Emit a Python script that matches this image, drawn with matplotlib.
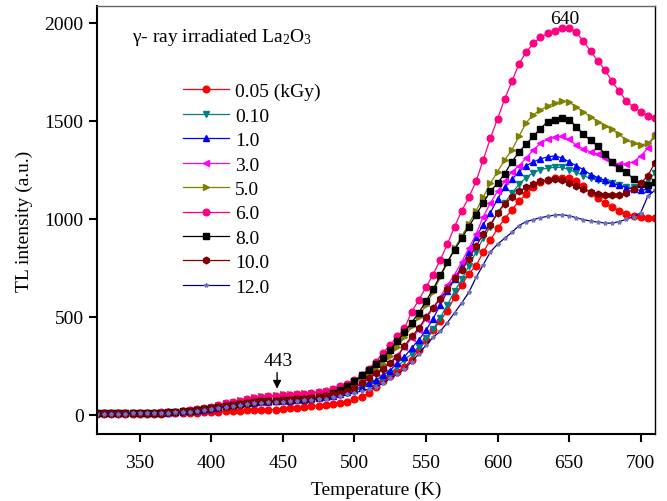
import matplotlib
matplotlib.use("Agg")
import matplotlib.pyplot as plt

plt.rcParams['font.family'] = ['Liberation Serif', 'DejaVu Serif']
plt.rcParams['mathtext.fontset'] = 'custom'
plt.rcParams['mathtext.rm'] = 'Liberation Serif'
plt.rcParams['mathtext.it'] = 'Liberation Serif:italic'

# temperature grid (K)
temperature = [320, 325, 330, 335, 340, 345, 350, 355, 360, 365, 370, 375, 380, 385, 390, 395,
               400, 405, 410, 415, 420, 425, 430, 435, 440, 445, 450, 455, 460, 465, 470, 475,
               480, 485, 490, 495, 500, 505, 510, 515, 520, 525, 530, 535, 540, 545, 550, 555,
               560, 565, 570, 575, 580, 585, 590, 595, 600, 605, 610, 615, 620, 625, 630, 635,
               640, 645, 650, 655, 660, 665, 670, 675, 680, 685, 690, 695, 700, 705, 710]

# TL intensity (a.u.) per dose
tl_005 = [4, 4, 4, 4, 4, 4, 5, 5, 5, 5, 6, 7, 8, 9, 10, 11,
          13, 15, 17, 19, 21, 22, 23, 24, 25, 26, 29, 32, 35, 38, 42, 46,
          50, 54, 58, 65, 78, 90, 110, 140, 170, 195, 220, 245, 280, 330, 380, 430,
          480, 530, 600, 660, 720, 760, 830, 890, 950, 1000, 1045, 1090, 1125, 1160, 1185, 1198,
          1205, 1210, 1205, 1190, 1165, 1130, 1105, 1080, 1058, 1040, 1025, 1013, 1008, 1005, 1003]
tl_010 = [6, 6, 6, 6, 6, 7, 7, 7, 8, 9, 10, 12, 14, 17, 21, 25,
          30, 36, 42, 48, 53, 57, 61, 64, 66, 68, 70, 72, 74, 77, 80, 84,
          88, 93, 102, 112, 122, 135, 150, 163, 185, 210, 245, 280, 310, 346, 390, 435,
          495, 560, 630, 690, 760, 830, 900, 960, 1030, 1080, 1130, 1175, 1210, 1235, 1250, 1258,
          1262, 1262, 1250, 1236, 1220, 1205, 1195, 1188, 1181, 1172, 1162, 1160, 1170, 1195, 1232]
tl_1 = [6, 6, 6, 6, 6, 7, 7, 7, 8, 9, 10, 12, 14, 17, 21, 25,
        30, 36, 42, 48, 53, 57, 61, 64, 66, 68, 70, 72, 74, 77, 80, 84,
        89, 95, 105, 115, 128, 143, 160, 175, 200, 225, 265, 295, 340, 382, 430, 490,
        560, 630, 690, 760, 830, 905, 970, 1030, 1100, 1160, 1200, 1240, 1270, 1290, 1305, 1315,
        1320, 1310, 1290, 1270, 1250, 1225, 1210, 1195, 1180, 1170, 1158, 1150, 1145, 1150, 1185]
tl_3 = [6, 6, 6, 6, 6, 7, 7, 7, 8, 9, 10, 12, 14, 17, 21, 25,
        30, 36, 42, 48, 53, 57, 61, 64, 66, 68, 70, 72, 74, 77, 80, 84,
        90, 98, 110, 125, 145, 165, 190, 210, 240, 265, 305, 345, 390, 433, 490, 545,
        600, 660, 715, 780, 850, 920, 1010, 1080, 1140, 1190, 1240, 1270, 1310, 1350, 1385, 1405,
        1415, 1420, 1405, 1375, 1355, 1340, 1330, 1310, 1285, 1280, 1280, 1290, 1320, 1360, 1435]
tl_5 = [8, 8, 8, 8, 8, 9, 9, 9, 10, 11, 13, 16, 19, 23, 28, 34,
        41, 49, 58, 67, 75, 82, 88, 93, 97, 100, 103, 105, 107, 109, 112, 116,
        122, 130, 140, 152, 168, 185, 205, 230, 260, 300, 345, 395, 450, 500, 560, 625,
        700, 775, 850, 910, 975, 1040, 1110, 1180, 1240, 1300, 1350, 1420, 1490, 1530, 1555, 1575,
        1590, 1600, 1595, 1570, 1545, 1520, 1495, 1475, 1455, 1430, 1400, 1385, 1375, 1385, 1420]
tl_6 = [8, 8, 8, 8, 8, 9, 9, 9, 10, 11, 13, 16, 19, 23, 28, 34,
        41, 49, 57, 65, 72, 79, 85, 90, 94, 97, 100, 102, 104, 107, 110, 115,
        122, 132, 145, 158, 175, 200, 235, 270, 315, 355, 400, 440, 525, 585, 650, 715,
        790, 870, 960, 1040, 1110, 1190, 1300, 1410, 1510, 1610, 1700, 1790, 1850, 1895, 1925, 1945,
        1960, 1975, 1975, 1950, 1905, 1855, 1805, 1760, 1700, 1650, 1600, 1570, 1545, 1525, 1515]
tl_8 = [7, 7, 7, 7, 7, 8, 8, 8, 9, 10, 12, 14, 17, 20, 24, 28,
        33, 39, 45, 51, 56, 61, 65, 68, 70, 72, 74, 76, 78, 81, 85, 90,
        97, 110, 128, 148, 170, 200, 230, 260, 290, 330, 375, 420, 470, 520, 580, 640,
        710, 780, 840, 900, 960, 1020, 1080, 1140, 1180, 1230, 1290, 1340, 1380, 1420, 1460, 1495,
        1505, 1515, 1505, 1470, 1430, 1400, 1370, 1330, 1290, 1260, 1240, 1200, 1175, 1170, 1185]
tl_10 = [7, 7, 7, 7, 7, 8, 8, 8, 9, 10, 12, 14, 17, 20, 24, 28,
         33, 39, 45, 51, 56, 61, 65, 68, 70, 72, 74, 76, 78, 81, 85, 90,
         95, 103, 112, 122, 135, 160, 185, 210, 235, 265, 295, 350, 400, 440, 500, 545,
         590, 640, 695, 740, 795, 860, 920, 970, 1030, 1075, 1108, 1140, 1160, 1178, 1190, 1196,
         1200, 1195, 1180, 1165, 1150, 1138, 1128, 1122, 1120, 1122, 1130, 1150, 1180, 1220, 1285]
tl_12 = [5, 5, 5, 5, 5, 6, 6, 6, 7, 8, 9, 11, 13, 16, 20, 24,
         28, 33, 39, 45, 50, 54, 58, 61, 63, 65, 67, 69, 71, 73, 76, 79,
         82, 88, 95, 103, 112, 120, 130, 140, 160, 185, 205, 235, 270, 310, 355, 395,
         425, 470, 520, 570, 625, 700, 765, 830, 870, 900, 930, 965, 985, 995, 1005, 1012,
         1018, 1020, 1015, 1005, 995, 988, 982, 978, 977, 985, 997, 1010, 1030, 1115, 1145]

doses = ['0.05 (kGy)', '0.10', '1.0', '3.0', '5.0', '6.0', '8.0', '10.0', '12.0']
series = [tl_005, tl_010, tl_1, tl_3, tl_5, tl_6, tl_8, tl_10, tl_12]
colors = ['#ff0000', '#008080', '#0000ff', '#ff00ff', '#808000', '#ff0080', '#000000', '#800000', '#000080']
markers = ['o', 'v', '^', '<', '>', 'o', 's', 'h', '*']
msizes = [4.8, 5, 5, 5, 5, 4.8, 4.5, 4.8, 3]

fig = plt.figure(figsize=(6.67, 5.02), dpi=100)
ax = fig.add_axes([0.145, 0.133, 0.837, 0.853])

for vals, lab, c, m, ms in zip(series, doses, colors, markers, msizes):
    mec = c if m != '*' else '#7070c0'
    ax.plot(temperature, vals, color=c, marker=m, markersize=ms, linewidth=0.9,
            markeredgecolor=mec, markerfacecolor=mec, label=lab)

ax.set_xlim(320, 710)
ax.set_ylim(-100, 2085)
ax.set_xticks([350, 400, 450, 500, 550, 600, 650, 700])
ax.set_yticks([0, 500, 1000, 1500, 2000])
ax.tick_params(axis='both', direction='out', length=6, width=1.5, labelsize=14)
ax.tick_params(axis='x', pad=8)
ax.tick_params(top=False, right=False)
ax.spines['left'].set_linewidth(1.5)
ax.spines['bottom'].set_linewidth(1.5)
ax.spines['top'].set_linewidth(1.0)
ax.spines['top'].set_color('#666666')
ax.spines['right'].set_linewidth(1.0)

ax.set_xlabel('Temperature (K)', fontsize=14, labelpad=7)
ax.set_ylabel('TL intensity (a.u.)', fontsize=14, labelpad=8)

ax.text(0.063, 0.928, r'γ- ray irradiated La$_\mathrm{2}$O$_\mathrm{3}$', transform=ax.transAxes,
        fontsize=14, va='center', ha='left')

ax.legend(loc='upper left', bbox_to_anchor=(0.154, 0.821), frameon=False, fontsize=14,
          handlelength=2.4, handletextpad=0.3, labelspacing=0.35, borderaxespad=0, borderpad=0)

ax.text(647, 2020, '640', fontsize=14, ha='center', va='center')
ax.text(447, 275, '443', fontsize=14, ha='center', va='center')
ax.annotate('', xy=(446, 118), xytext=(446, 228),
            arrowprops=dict(arrowstyle='-|>', color='k', lw=1, mutation_scale=12))

fig.savefig('out.png', dpi=100)
